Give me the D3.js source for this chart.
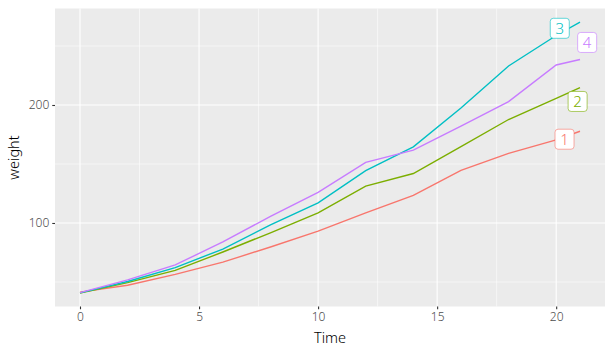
<!DOCTYPE html>
<html>
<head>
<meta charset="utf-8">
<script src="https://cdn.jsdelivr.net/npm/d3@7"></script>
<style>
  body { margin: 0; background: #fff; }
  text { font-family: "Noto Sans", "DejaVu Sans", sans-serif; font-weight: 300; }
</style>
</head>
<body>
<div id="chart"></div>
<script>
// Mean weight per diet over time
var times = [0, 2, 4, 6, 8, 10, 12, 14, 16, 18, 20, 21];
var diets = ["1", "2", "3", "4"];
var diet1 = [41.4, 47.25, 56.47, 66.79, 79.68, 93.05, 108.53, 123.39, 144.65, 158.94, 170.41, 177.75];
var diet2 = [40.7, 49.4, 59.8, 75.4, 91.7, 108.5, 131.3, 141.9, 164.7, 187.7, 205.6, 214.7];
var diet3 = [40.8, 50.4, 62.2, 77.9, 98.4, 117.1, 144.4, 164.5, 197.4, 233.1, 258.9, 270.3];
var diet4 = [41.0, 51.8, 64.5, 83.9, 105.6, 126.0, 151.4, 161.8, 182.0, 202.9, 233.9, 238.6];
var xTicks = [0, 5, 10, 15, 20];
var yTicks = [100, 200];
// label anchors (in data units)
var labelTime = [20.35, 20.9, 20.15, 21.3];
var labelWeight = [171, 203, 265, 253];

var colors = ["#F8766D", "#7CAE00", "#00BFC4", "#C77CFF"];
var series = [diet1, diet2, diet3, diet4];

var w = 610;
var h = 352;
var margin = { left: 55, right: 5, top: 8.5, bottom: 45.5 };

var svg = d3
  .select("#chart")
  .append("svg")
  .attr("width", w)
  .attr("height", h);

// scales with ggplot-like 5% expansion
var xMin = d3.min(times), xMax = d3.max(times);
var xPad = (xMax - xMin) * 0.05;
var allW = d3.merge(series);
var yMin = d3.min(allW), yMax = d3.max(allW);
var yPad = (yMax - yMin) * 0.05;

var xScale = d3
  .scaleLinear()
  .domain([xMin - xPad, xMax + xPad])
  .range([margin.left, w - margin.right]);

var yScale = d3
  .scaleLinear()
  .domain([yMin - yPad, yMax + yPad])
  .range([h - margin.bottom, margin.top]);

// panel background
svg
  .append("rect")
  .attr("x", margin.left)
  .attr("y", margin.top)
  .attr("width", w - margin.left - margin.right)
  .attr("height", h - margin.top - margin.bottom)
  .attr("fill", "#EBEBEB");

var grid = svg.append("g");

// minor grid
var xMinor = [2.5, 7.5, 12.5, 17.5];
var yMinor = [50, 150, 250];
grid
  .selectAll(".xminor")
  .data(xMinor)
  .enter()
  .append("line")
  .attr("x1", (d) => xScale(d))
  .attr("x2", (d) => xScale(d))
  .attr("y1", margin.top)
  .attr("y2", h - margin.bottom)
  .attr("stroke", "#fff")
  .attr("stroke-width", 0.55);
grid
  .selectAll(".yminor")
  .data(yMinor)
  .enter()
  .append("line")
  .attr("y1", (d) => yScale(d))
  .attr("y2", (d) => yScale(d))
  .attr("x1", margin.left)
  .attr("x2", w - margin.right)
  .attr("stroke", "#fff")
  .attr("stroke-width", 0.55);

// major grid
grid
  .selectAll(".xmajor")
  .data(xTicks)
  .enter()
  .append("line")
  .attr("x1", (d) => xScale(d))
  .attr("x2", (d) => xScale(d))
  .attr("y1", margin.top)
  .attr("y2", h - margin.bottom)
  .attr("stroke", "#fff")
  .attr("stroke-width", 1.1);
grid
  .selectAll(".ymajor")
  .data(yTicks)
  .enter()
  .append("line")
  .attr("y1", (d) => yScale(d))
  .attr("y2", (d) => yScale(d))
  .attr("x1", margin.left)
  .attr("x2", w - margin.right)
  .attr("stroke", "#fff")
  .attr("stroke-width", 1.1);

// lines
var line = d3
  .line()
  .x((d, i) => xScale(times[i]))
  .y((d) => yScale(d));

svg
  .selectAll(".series")
  .data(series)
  .enter()
  .append("path")
  .attr("d", line)
  .attr("fill", "none")
  .attr("stroke", (d, i) => colors[i])
  .attr("stroke-width", 1.4);

// axes
var xAxis = d3.axisBottom(xScale).tickValues(xTicks).tickSize(2.75).tickPadding(3);
var yAxis = d3.axisLeft(yScale).tickValues(yTicks).tickSize(2.75).tickPadding(3);

var gx = svg
  .append("g")
  .attr("transform", "translate(0," + (h - margin.bottom) + ")")
  .call(xAxis);
var gy = svg
  .append("g")
  .attr("transform", "translate(" + margin.left + ",0)")
  .call(yAxis);

[gx, gy].forEach(function (g) {
  g.select(".domain").remove();
  g.selectAll(".tick line").attr("stroke", "#333").attr("stroke-width", 1.1);
  g.selectAll(".tick text")
    .attr("fill", "#4D4D4D")
    .style("font-size", "12px")
    .style("font-family", '"Noto Sans", sans-serif')
    .style("font-weight", 300);
});
gx.selectAll(".tick text").attr("dy", "0.71em");

// axis titles
svg
  .append("text")
  .attr("x", (margin.left + w - margin.right) / 2)
  .attr("y", h - 9)
  .attr("text-anchor", "middle")
  .style("font-size", "14.5px")
  .attr("fill", "#000")
  .text("Time");

svg
  .append("text")
  .attr("transform", "translate(19," + (margin.top + (h - margin.bottom)) / 2 + ") rotate(-90)")
  .attr("text-anchor", "middle")
  .style("font-size", "14.5px")
  .attr("fill", "#000")
  .text("weight");

// labels
var labels = svg
  .selectAll(".lab")
  .data(diets)
  .enter()
  .append("g")
  .attr("transform", (d, i) =>
    "translate(" + xScale(labelTime[i]) + "," + yScale(labelWeight[i]) + ")"
  );

labels
  .append("rect")
  .attr("x", -9.5)
  .attr("y", -10)
  .attr("width", 19)
  .attr("height", 20)
  .attr("rx", 3)
  .attr("fill", "#fff")
  .attr("stroke", (d, i) => colors[i])
  .attr("stroke-opacity", 0.6)
  .attr("stroke-width", 1);

labels
  .append("text")
  .attr("text-anchor", "middle")
  .attr("dy", "0.36em")
  .attr("fill", (d, i) => colors[i])
  .style("font-size", "15px")
  .text((d) => d);
</script>
</body>
</html>
